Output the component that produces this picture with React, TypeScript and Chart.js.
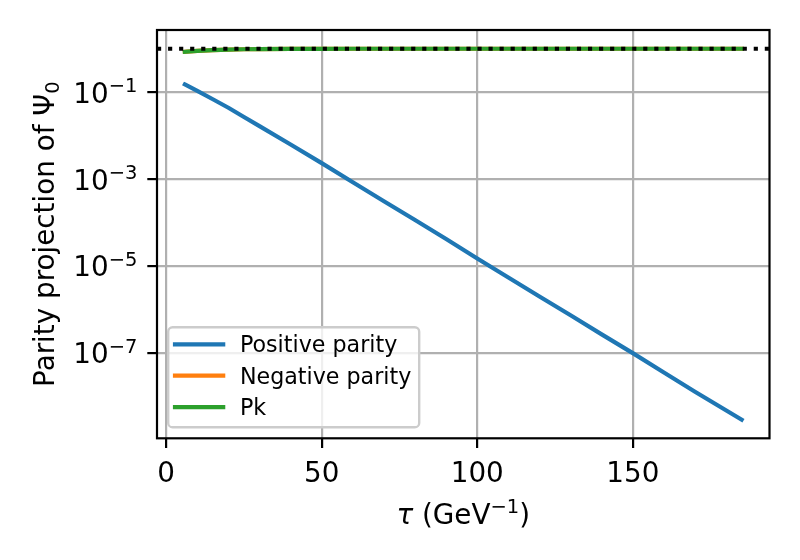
import { useEffect, useRef } from 'react';
import { Chart, registerables } from 'chart.js';

Chart.register(...registerables);

// values
const tau = [6, 10, 15, 20, 25, 30, 40, 50, 60, 70, 80, 90, 100, 110, 120, 130, 140, 150, 160, 170, 185];
const positiveParity = [
  0.151, 0.107, 0.069, 0.044, 0.027, 0.0166, 0.0063, 0.00234, 8.5e-4, 3.1e-4, 1.15e-4,
  4.2e-5, 1.5e-5, 5.5e-6, 2.0e-6, 7.4e-7, 2.7e-7, 1.0e-7, 3.6e-8, 1.3e-8, 2.95e-9,
];
const negativeParity = [
  0.849, 0.893, 0.931, 0.956, 0.973, 0.983, 0.9937, 0.9977, 0.9992, 0.9997, 0.9999,
  1, 1, 1, 1, 1, 1, 1, 1, 1, 1,
];
const pk = [
  0.849, 0.893, 0.931, 0.956, 0.973, 0.983, 0.9937, 0.9977, 0.9992, 0.9997, 0.9999,
  1, 1, 1, 1, 1, 1, 1, 1, 1, 1,
];
const seriesLabels = ['Positive parity', 'Negative parity', 'Pk'];
const seriesColors = ['#1f77b4', '#ff7f0e', '#2ca02c'];
const referenceLevel = 1;

const xLimits = [-2.95, 193.95];
const yLimits = [1.1e-9, 2.7];
const xTicks = [0, 50, 100, 150];
const yTicks = [1e-7, 1e-5, 1e-3, 1e-1];

const FONT = '"DejaVu Sans", sans-serif';
const BIG = 27.8;
const SMALL = 19.5;
const LEGEND = 22.2;
const LW = 4.17;

type Run = { text: string; size: number; dy?: number; italic?: boolean };

function drawRuns(ctx: CanvasRenderingContext2D, runs: Run[], x: number, y: number, align: 'left' | 'center' | 'right') {
  const fontOf = (r: Run) => `${r.italic ? 'italic ' : ''}${r.size}px ${FONT}`;
  const widths = runs.map((r) => {
    ctx.font = fontOf(r);
    return ctx.measureText(r.text).width;
  });
  const total = widths.reduce((a, b) => a + b, 0);
  let cx = align === 'left' ? x : align === 'center' ? x - total / 2 : x - total;
  runs.forEach((r, i) => {
    ctx.font = fontOf(r);
    ctx.fillText(r.text, cx, y + (r.dy ?? 0));
    cx += widths[i];
  });
}

const decorations = {
  id: 'decorations',
  afterDatasetsDraw(chart: any) {
    const { ctx, chartArea: a } = chart;
    ctx.save();
    ctx.strokeStyle = '#000';
    ctx.lineWidth = 2.2;
    ctx.strokeRect(a.left, a.top, a.right - a.left, a.bottom - a.top);
    ctx.restore();
  },
  afterDraw(chart: any) {
    const { ctx, chartArea: a } = chart;
    const yScale = chart.scales.y;
    ctx.save();
    ctx.fillStyle = '#000';
    ctx.textBaseline = 'alphabetic';

    // y tick labels 10^n
    yTicks.forEach((v) => {
      const py = yScale.getPixelForValue(v);
      const exp = Math.round(Math.log10(v));
      drawRuns(ctx, [
        { text: '10', size: BIG, dy: 10.3 },
        { text: (exp < 0 ? '\u2212' : '') + Math.abs(exp), size: SMALL, dy: -0.3 },
      ], a.left - 19.6, py, 'right');
    });

    // x title
    drawRuns(ctx, [
      { text: '\u03c4', size: BIG, italic: true },
      { text: ' (GeV', size: BIG },
      { text: '\u22121', size: SMALL, dy: -10.6 },
      { text: ')', size: BIG },
    ], (a.left + a.right) / 2, 524, 'center');

    // y title
    ctx.save();
    ctx.translate(53.5, (a.top + a.bottom) / 2);
    ctx.rotate(-Math.PI / 2);
    drawRuns(ctx, [
      { text: 'Parity projection of \u03a8', size: BIG },
      { text: '0', size: SMALL, dy: 5.5 },
    ], 0, 0, 'center');
    ctx.restore();

    // legend
    const bx = a.left + 11.2;
    const bottom = a.bottom - 11;
    const rowH = 31.4;
    const bh = 100;
    const bw = 251;
    const by = bottom - bh;
    ctx.beginPath();
    ctx.roundRect(bx, by, bw, bh, 4.4);
    ctx.fillStyle = 'rgba(255,255,255,0.8)';
    ctx.fill();
    ctx.strokeStyle = '#cccccc';
    ctx.lineWidth = 2.4;
    ctx.stroke();
    seriesLabels.forEach((label, i) => {
      const cy = by + 17 + i * rowH;
      ctx.beginPath();
      ctx.moveTo(bx + 6.8, cy);
      ctx.lineTo(bx + 55, cy);
      ctx.strokeStyle = seriesColors[i];
      ctx.lineWidth = LW;
      ctx.lineCap = 'square';
      ctx.stroke();
      ctx.fillStyle = '#000';
      ctx.font = `${LEGEND}px ${FONT}`;
      ctx.fillText(label, bx + 71.7, cy + 7.8);
    });
    ctx.restore();
  },
};

export default function App() {
  const canvasRef = useRef<HTMLCanvasElement>(null);
  const chartRef = useRef<Chart | null>(null);

  useEffect(() => {
    if (!canvasRef.current) return;
    document.body.style.margin = '0';

    const points = (ys: number[]) => tau.map((x, i) => ({ x, y: ys[i] }));
    const line = (i: number, ys: number[], order: number) => ({
      label: seriesLabels[i],
      data: points(ys),
      borderColor: seriesColors[i],
      borderWidth: LW,
      borderCapStyle: 'square' as const,
      borderJoinStyle: 'round' as const,
      pointRadius: 0,
      fill: false,
      tension: 0,
      order,
    });

    chartRef.current = new Chart(canvasRef.current, {
      type: 'line',
      data: {
        datasets: [
          line(0, positiveParity, 3),
          line(1, negativeParity, 2),
          line(2, pk, 1),
          {
            label: '',
            data: [
              { x: xLimits[0], y: referenceLevel },
              { x: xLimits[1], y: referenceLevel },
            ],
            borderColor: '#000',
            borderWidth: LW,
            borderDash: [LW, LW * 1.65],
            borderCapStyle: 'butt',
            pointRadius: 0,
            fill: false,
            order: 0,
          },
        ],
      },
      options: {
        responsive: false,
        animation: false,
        devicePixelRatio: 1,
        layout: { padding: { top: 30, right: 30.5, left: 0, bottom: 0 } },
        plugins: { legend: { display: false }, tooltip: { enabled: false } },
        scales: {
          x: {
            type: 'linear',
            min: xLimits[0],
            max: xLimits[1],
            afterBuildTicks: (s: any) => {
              s.ticks = xTicks.map((value) => ({ value }));
            },
            afterFit: (s: any) => {
              s.height = 121.7;
            },
            border: { display: false },
            grid: { color: '#b0b0b0', lineWidth: 2.2, tickColor: '#000', tickWidth: 2.2, tickLength: 9.7 },
            ticks: {
              color: '#000',
              font: { family: FONT, size: BIG },
              padding: 9.7,
              maxRotation: 0,
              autoSkip: false,
            },
          },
          y: {
            type: 'logarithmic',
            min: yLimits[0],
            max: yLimits[1],
            afterBuildTicks: (s: any) => {
              s.ticks = yTicks.map((value) => ({ value }));
            },
            afterFit: (s: any) => {
              s.width = 157;
            },
            border: { display: false },
            grid: { color: '#b0b0b0', lineWidth: 2.2, tickColor: '#000', tickWidth: 2.2, tickLength: 9.7 },
            ticks: { display: false },
          },
        },
      },
      plugins: [decorations],
    });

    return () => {
      chartRef.current?.destroy();
      chartRef.current = null;
    };
  }, []);

  return (
    <div style={{ width: 800, height: 560, background: '#fff' }}>
      <canvas ref={canvasRef} width={800} height={560} />
    </div>
  );
}
